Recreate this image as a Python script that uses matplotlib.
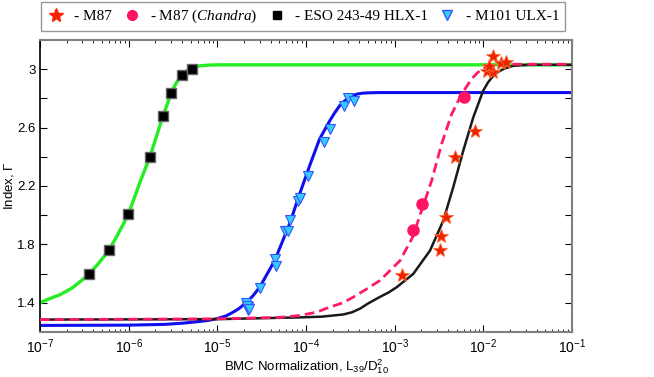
import numpy as np
import matplotlib
matplotlib.use('Agg')
import matplotlib.pyplot as plt
from matplotlib.lines import Line2D
from matplotlib.ticker import LogLocator, NullFormatter

plt.rcParams['font.family'] = ['Liberation Sans', 'DejaVu Sans']
plt.rcParams['mathtext.fontset'] = 'custom'
plt.rcParams['mathtext.rm'] = 'Liberation Sans'
plt.rcParams['mathtext.it'] = 'Liberation Serif:italic'
plt.rcParams['mathtext.bf'] = 'Liberation Sans:bold'

# ESO 243-49 HLX-1 (squares) and fit
hlx_x = [3.56e-7, 5.98e-7, 9.8e-7, 1.76e-6, 2.47e-6, 3.03e-6, 3.97e-6, 5.24e-6]
hlx_y = [1.60, 1.76, 2.01, 2.40, 2.68, 2.84, 2.96, 3.00]
hlx_fit_x = [1e-7, 1.3e-7, 1.68e-7, 2e-7, 2.37e-7, 2.94e-7, 3.56e-7, 4.5e-7, 5.98e-7, 7.6e-7,
             9.8e-7, 1.34e-6, 1.76e-6, 2.34e-6, 3.03e-6, 3.4e-6, 3.77e-6, 4.3e-6, 4.89e-6,
             5.5e-6, 6.3e-6, 8e-6, 1.06e-5, 1e-1]
hlx_fit_y = [1.40, 1.43, 1.455, 1.48, 1.507, 1.553, 1.598, 1.665, 1.758, 1.872,
             1.997, 2.225, 2.41, 2.647, 2.84, 2.90, 2.943, 2.98, 3.005,
             3.015, 3.023, 3.028, 3.03, 3.03]

# M101 ULX-1 (triangles) and fit
ulx_x = [2.09e-5, 2.19e-5, 2.24e-5, 2.14e-5, 2.29e-5, 3.05e-5, 4.43e-5, 4.55e-5, 5.74e-5,
         6.25e-5, 6.65e-5, 8.1e-5, 8.47e-5, 1.05e-4, 1.58e-4, 1.87e-4, 2.65e-4, 2.96e-4, 3.52e-4]
ulx_y = [1.40, 1.37, 1.35, 1.38, 1.36, 1.50, 1.70, 1.65, 1.89,
         1.89, 1.97, 2.10, 2.12, 2.27, 2.50, 2.59, 2.75, 2.80, 2.78]
ulx_fit_x = [1e-7, 1e-6, 2.5e-6, 4e-6, 6.3e-6, 8e-6, 1e-5, 1.25e-5, 1.5e-5, 1.75e-5, 2.04e-5,
             2.5e-5, 3.0e-5, 4.43e-5, 6.53e-5, 8.47e-5, 1.1e-4, 1.42e-4, 1.85e-4, 2.1e-4,
             2.39e-4, 2.75e-4, 3.24e-4, 3.8e-4, 4.37e-4, 5e-4, 6.7e-4, 1e-1]
ulx_fit_y = [1.245, 1.247, 1.252, 1.26, 1.272, 1.28, 1.292, 1.31, 1.335, 1.36, 1.393,
             1.445, 1.506, 1.689, 1.94, 2.145, 2.339, 2.521, 2.646, 2.70,
             2.749, 2.785, 2.817, 2.83, 2.836, 2.838, 2.84, 2.84]

# M87 (stars), M87 Chandra (circles) and fits
m87_x = [1.29e-2, 1.60e-2, 1.79e-2, 1.10e-2, 1.27e-2, 1.17e-2,
         8.0e-3, 4.78e-3, 3.75e-3, 3.32e-3, 3.24e-3, 1.2e-3]
m87_y = [3.09, 3.045, 3.05, 2.99, 2.98, 3.02,
         2.58, 2.40, 1.99, 1.86, 1.76, 1.59]
chandra_x = [6.1e-3, 2.01e-3, 1.59e-3]
chandra_y = [2.81, 2.08, 1.90]

m87_fit_x = [1e-7, 1e-5, 8.47e-5, 1.5e-4, 2.63e-4, 3.3e-4, 4.07e-4, 5e-4, 6.8e-4, 8.5e-4,
             1.05e-3, 1.62e-3, 2.5e-3, 3.53e-3, 4.57e-3, 5.93e-3, 7.69e-3, 9.95e-3, 1.13e-2,
             1.29e-2, 1.45e-2, 1.67e-2, 1.9e-2, 2.17e-2, 2.6e-2, 3.34e-2, 1e-1]
m87_fit_y = [1.285, 1.288, 1.30, 1.305, 1.32, 1.335, 1.36, 1.395, 1.44, 1.47,
             1.506, 1.598, 1.757, 1.962, 2.19, 2.441, 2.669, 2.852, 2.91,
             2.954, 2.98, 3.0, 3.013, 3.023, 3.027, 3.03, 3.03]
chandra_fit_x = [1e-7, 1e-5, 5e-5, 8.47e-5, 1.3e-4, 1.85e-4, 2.6e-4, 3.39e-4, 4.7e-4, 6.8e-4,
                 1.15e-3, 1.59e-3, 2.01e-3, 2.61e-3, 3.38e-3, 4.39e-3, 5.68e-3, 7.36e-3,
                 8.4e-3, 9.55e-3, 1.1e-2, 1.29e-2, 1.82e-2, 1e-1]
chandra_fit_y = [1.285, 1.29, 1.30, 1.313, 1.335, 1.37, 1.40, 1.438, 1.49, 1.552,
                 1.689, 1.848, 2.031, 2.236, 2.487, 2.692, 2.829, 2.932,
                 2.97, 3.0, 3.017, 3.027, 3.034, 3.034]

fig = plt.figure(figsize=(6.54, 3.77), dpi=100)
ax = fig.add_axes([40/654, 45/377, 532/654, 292/377])

# fit curves
ax.plot(hlx_fit_x, hlx_fit_y, color='#22ee22', lw=2.4, zorder=2)
ax.plot(ulx_fit_x, ulx_fit_y, color='#1010ee', lw=2.2, zorder=2)
ax.plot(m87_fit_x, m87_fit_y, color='#1a1a1a', lw=1.8, zorder=3)
ax.plot(chandra_fit_x, chandra_fit_y, color='#ff1a66', lw=2.0, ls=(0, (3.5, 1.8)), zorder=4)

# data points
ax.plot(hlx_x, hlx_y, 's', color='black', mec='#666666', ms=6.5, zorder=5)
ax.plot(ulx_x, ulx_y, 'v', color='#33ccff', mec='#3355ff', ms=7, mew=0.8, zorder=5)
ax.plot(m87_x, m87_y, '*', color='#ee2200', mec='#ff6633', ms=10, mew=0.6, zorder=5)
ax.plot(chandra_x, chandra_y, 'o', color='#ff1464', mec='#ff1464', ms=8, zorder=5)

ax.set_xscale('log')
ax.set_xlim(1e-7, 1e-1)
ax.set_ylim(1.2, 3.2)
ax.set_xticks([1e-7, 1e-6, 1e-5, 1e-4, 1e-3, 1e-2, 1e-1])
ax.xaxis.set_minor_locator(LogLocator(base=10, subs=np.arange(2, 10), numticks=20))
ax.xaxis.set_minor_formatter(NullFormatter())
yt = [1.4, 1.6, 1.8, 2.0, 2.2, 2.4, 2.6, 2.8, 3.0]
ax.set_yticks(yt)
ax.set_yticklabels(['1.4', '', '1.8', '', '2.2', '', '2.6', '', '3'])
ax.tick_params(which='both', direction='in', top=True, right=True)
ax.tick_params(which='major', length=5, width=0.8)
ax.tick_params(which='minor', length=2.5, width=0.6)
ax.tick_params(axis='x', labelsize=10, pad=4)
ax.tick_params(axis='y', labelsize=9.5, pad=3)

for s in ['top', 'right', 'bottom']:
    ax.spines[s].set_color('#808080')
    ax.spines[s].set_linewidth(1.5)
ax.spines['left'].set_color('black')
ax.spines['left'].set_linewidth(1.2)

ax.set_xlabel('BMC Normalization, L$_{39}$/D$_{10}^{2}$', fontsize=9.5, labelpad=1)
ax.set_ylabel('Index, $\\mathit{\\Gamma}$', fontsize=9.5, labelpad=1)

# legend above the plot
handles = [
    Line2D([], [], ls='none', marker='*', color='#ee2200', mec='#ff2200', ms=10),
    Line2D([], [], ls='none', marker='o', color='#ff1464', ms=7),
    Line2D([], [], ls='none', marker='s', color='black', ms=5.5),
    Line2D([], [], ls='none', marker='v', color='#33ccff', mec='#3355ff', ms=7),
]
labels = ['- M87', '- M87 ($\\mathit{Chandra}$)', '- ESO 243-49 HLX-1', '- M101 ULX-1']
leg = fig.legend(handles, labels, loc='center', ncol=4,
                 bbox_to_anchor=(33/654, 1 - 31/377, 540/654, 29/377), mode='expand',
                 prop={'family': 'Liberation Serif', 'size': 11},
                 handlelength=1.2, handletextpad=0.6, columnspacing=1.0,
                 borderpad=0.4, fancybox=False, framealpha=1)
leg.get_frame().set_edgecolor('#999999')
leg.get_frame().set_linewidth(1.0)

fig.savefig('out.png', dpi=100)
